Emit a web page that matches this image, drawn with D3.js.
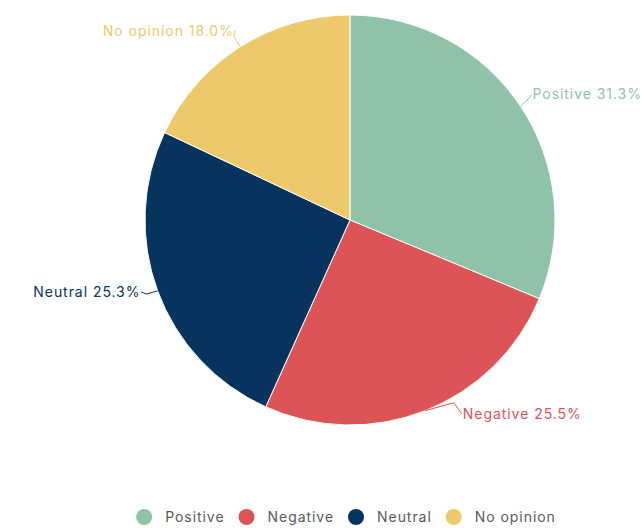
<!DOCTYPE html>
<html>
<head>
<meta charset="utf-8">
<script src="https://cdn.jsdelivr.net/npm/d3@7"></script>
<style>
  body { margin: 0; background: #fff; }
  svg { display: block; font-family: Inter, "Noto Sans", sans-serif; }
</style>
</head>
<body>
<svg id="pie-chart" width="642" height="528"></svg>
<script>
// data
const categories = ['Positive', 'Negative', 'Neutral', 'No opinion'];
const shares = [31.3, 25.5, 25.3, 18.0];

const colors = {
    'Positive': '#8fc3a8',
    'Negative': '#dc5456',
    'Neutral': '#07345f',
    'No opinion': '#eec96b'
};

// label leader tweaks: [elbow dx, elbow dy, end dx, end dy]
const labelTweaks = {
    'Positive': [0, -3, 1, -2],
    'Negative': [24, -19, 8, 11],
    'Neutral': [0, -1, -5, -2],
    'No opinion': [0, 0, 1, -6]
};

const width = 642, height = 528;
const cx = 350, cy = 220, radius = 205;
const fontSize = '14px', spacing = '0.95px';

const data = categories.map((c, i) => ({ name: c, value: shares[i] }));

const svg = d3.select('#pie-chart');
const g = svg.append('g').attr('transform', `translate(${cx},${cy})`);

const pie = d3.pie().sort(null).value(d => d.value);
const arc = d3.arc().innerRadius(0).outerRadius(radius);
const arcs = pie(data);

g.selectAll('path.slice')
    .data(arcs)
    .enter().append('path')
    .attr('class', 'slice')
    .attr('d', arc)
    .style('fill', d => colors[d.data.name])
    .style('stroke', '#fff')
    .style('stroke-width', 1);

// leader lines + labels
const outerR = radius + 12;
arcs.forEach(function(d){
    const mid = (d.startAngle + d.endAngle) / 2;
    const p0 = [radius * Math.sin(mid), -radius * Math.cos(mid)];
    const p1 = [outerR * Math.sin(mid), -outerR * Math.cos(mid)];
    const t = labelTweaks[d.data.name];
    const elbow = [p1[0] + t[0], p1[1] + t[1]];
    const end = [elbow[0] + t[2], elbow[1] + t[3]];
    const right = Math.sin(mid) > 0;
    const col = colors[d.data.name];

    g.append('polyline')
        .attr('points', [p0, elbow, end].map(p => p.join(',')).join(' '))
        .style('fill', 'none')
        .style('stroke', col)
        .style('stroke-width', 1);

    g.append('text')
        .attr('x', end[0] + (right ? 1 : -1))
        .attr('y', end[1])
        .attr('dy', '0.35em')
        .attr('text-anchor', right ? 'start' : 'end')
        .style('font-size', fontSize)
        .style('letter-spacing', spacing)
        .style('fill', col)
        .text(d.data.name + ' ' + d.data.value.toFixed(1) + '%');
});

// legend
const legend = svg.append('g').attr('class', 'legend');
const legY = 517, dotR = 8, textGap = 13, itemGap = 14;
let x = 0;
const items = legend.selectAll('g.item')
    .data(categories)
    .enter().append('g')
    .attr('class', 'item');
items.append('circle')
    .attr('r', dotR)
    .style('fill', d => colors[d]);
items.append('text')
    .attr('dy', '0.35em')
    .style('font-size', fontSize)
    .style('letter-spacing', spacing)
    .style('fill', '#5a5a5a')
    .text(d => d);
items.each(function(){
    const item = d3.select(this);
    const w = item.select('text').node().getComputedTextLength();
    item.select('circle').attr('cx', x + dotR).attr('cy', legY);
    item.select('text').attr('x', x + 2 * dotR + textGap).attr('y', legY);
    x += 2 * dotR + textGap + w + itemGap;
});
const total = x - itemGap;
legend.attr('transform', `translate(${346 - total / 2},0)`);
</script>
</body>
</html>
